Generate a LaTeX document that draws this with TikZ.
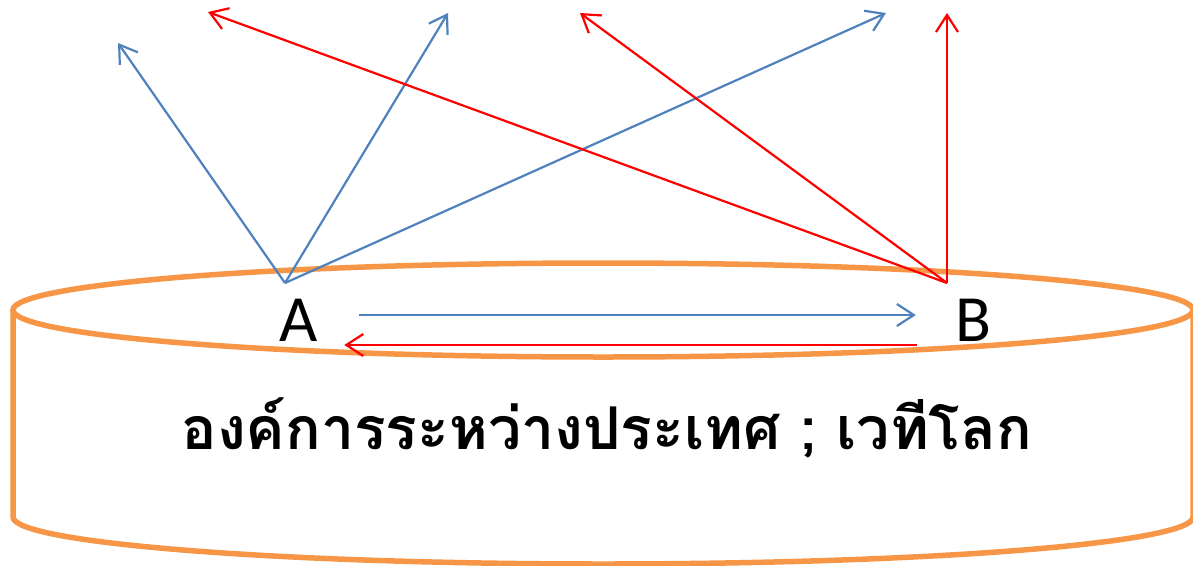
\documentclass[tikz,border=0pt]{standalone}
\usepackage{fontspec}
\setmainfont{Carlito}
\newfontfamily\thaifont[Script=Thai]{Loma}
\usetikzlibrary{arrows.meta}
\definecolor{cylorange}{HTML}{F79646}
\definecolor{flowblue}{HTML}{4F81BD}
\definecolor{flowred}{HTML}{FF0000}

\begin{document}
\begin{tikzpicture}[x=1pt,y=-1pt] % one unit per pixel of the reference
    \tikzstyle{barb}=[line width=2.2pt, -{Straight Barb[length=17pt,width=22pt,line width=2.2pt]}]
    \tikzstyle{letter}=[font=\fontsize{66}{70}\selectfont, inner sep=0pt]
    \useasboundingbox (0,0) rectangle (1193,565);
    % the cylinder
    \draw[cylorange, line width=5.5pt] (603,310) ellipse [x radius=590, y radius=47];
    \draw[cylorange, line width=5.5pt] (13,310) -- (13,517) arc [start angle=180, end angle=0, x radius=590, y radius=47] -- (1193,310);
    \node[font=\thaifont\bfseries\fontsize{59}{63}\selectfont] (world) at (607,428) {องค์การระหว่างประเทศ ; เวทีโลก};

    \node[letter] (A) at (299,320) {A};
    \node[letter] (B) at (973,320) {B};
    \coordinate (a) at (285,283);
    \coordinate (b) at (947,283);

    % arrows from A and B
    \foreach \x/\y [count=\k] in {118/43, 448/13, 886/13} {
        \coordinate (ua\k) at (\x,\y);
        \draw[barb, flowblue] (a) -- (ua\k);
    }
    \foreach \x/\y [count=\k] in {208/12, 580/13, 947/13} {
        \coordinate (ub\k) at (\x,\y);
        \draw[barb, flowred] (b) -- (ub\k);
    }
    \draw[barb, flowblue] ([xshift=41pt,yshift=5pt]A.east) -- ([xshift=-39pt,yshift=5pt]B.west);
    \draw[barb, flowred] ([xshift=-38pt,yshift=-25pt]B.west) -- ([xshift=26pt,yshift=-25pt]A.east);
\end{tikzpicture}
\end{document}
